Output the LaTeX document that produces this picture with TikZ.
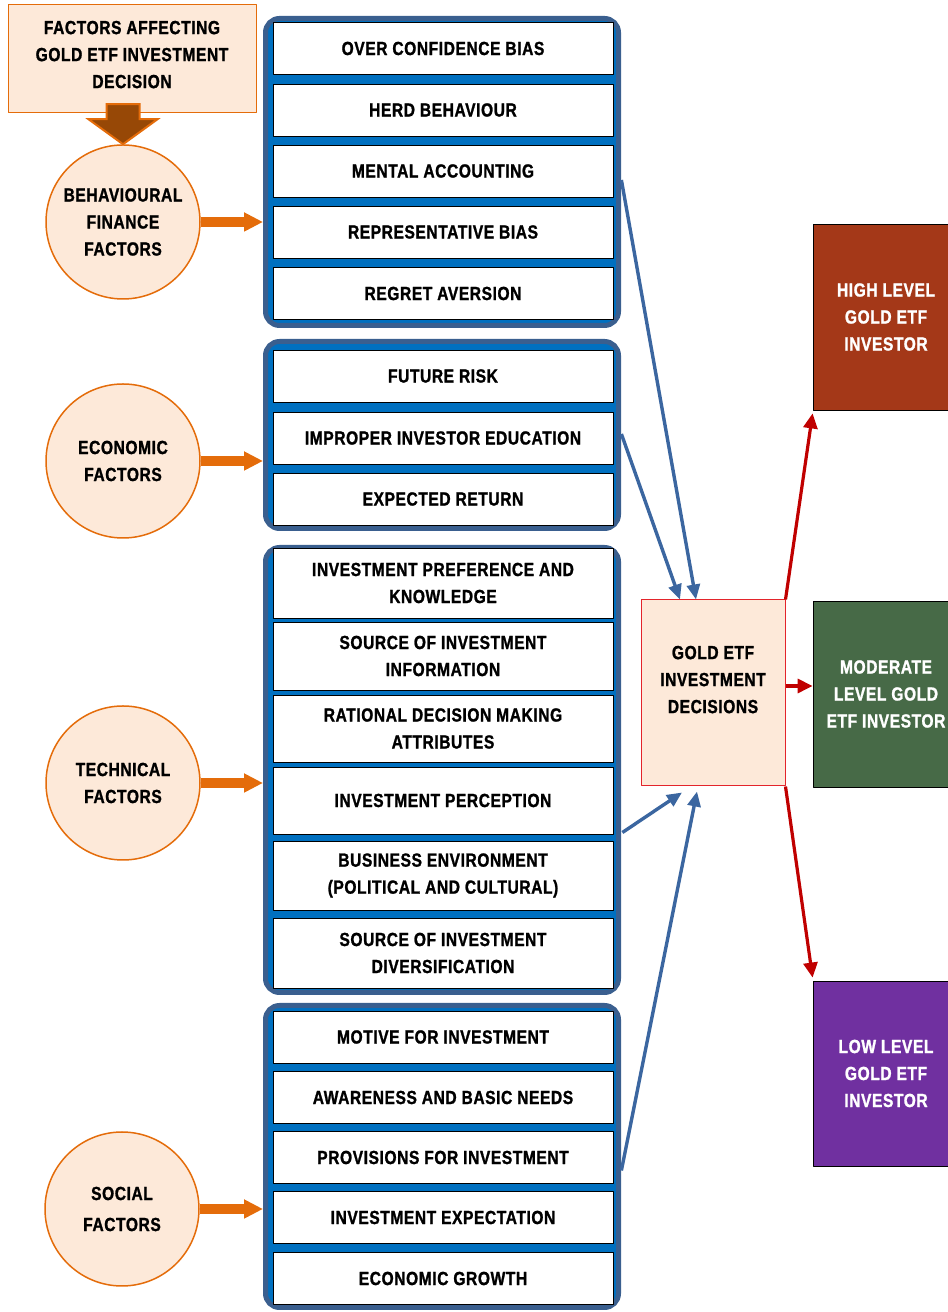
\documentclass[tikz,border=0pt]{standalone}
\usepackage{fontspec}
\setmainfont[FakeStretch=0.82,LetterSpace=3,BoldFeatures={FakeBold=1.2}]{Liberation Sans}
\usetikzlibrary{arrows.meta}
\definecolor{peach}{HTML}{FDE9D9}
\definecolor{orangeln}{HTML}{E46C0A}
\definecolor{brownarr}{HTML}{974806}
\definecolor{grpfill}{HTML}{0070C0}
\definecolor{grpline}{HTML}{3A5F8F}
\definecolor{bluearr}{HTML}{3B66A0}
\definecolor{redarr}{HTML}{C00000}
\definecolor{decline}{HTML}{E3242B}
\definecolor{highfill}{HTML}{A43818}
\definecolor{modfill}{HTML}{476A47}
\definecolor{lowfill}{HTML}{7030A0}
\newcommand{\diagfont}{\fontsize{19bp}{27bp}\selectfont\bfseries}
\tikzset{
  rowbox/.style={draw=black,line width=0.8bp,fill=white,minimum width=340bp,minimum height=52bp,inner sep=0pt,align=center,font=\diagfont},
  grpbox/.style={draw=grpline,line width=5bp,fill=grpfill,rounded corners=14bp,minimum width=353bp,inner sep=0pt},
  factor/.style={circle,draw=orangeln,line width=1.5bp,fill=peach,minimum size=154bp,inner sep=0pt,align=center,font=\diagfont},
  outbox/.style={draw=black,line width=0.8bp,minimum width=146bp,minimum height=186bp,inner sep=0pt,align=center,text=white,font=\diagfont},
  orange_arr/.style={orangeln,line width=10bp,-{Triangle[length=19bp,width=18bp]}},
  blue_arr/.style={bluearr,line width=3.4bp,-{Triangle[length=15bp,width=13bp]}},
  red_arr/.style={redarr,line width=3.2bp,-{Triangle[length=15bp,width=14bp]}},
}
\begin{document}
\begin{tikzpicture}[line join=bevel,]
\useasboundingbox (0bp,0bp) rectangle (948bp,1312bp);
%%
\node (node_title) at (132bp,1253bp) [draw=orangeln,line width=1bp,fill=peach,minimum width=248bp,minimum height=108bp,align=center,font=\diagfont] {FACTORS AFFECTING\\GOLD ETF INVESTMENT\\DECISION\\[-18bp]\mbox{}};
  \node (node_behav) at (123bp,1090bp) [factor] {BEHAVIOURAL\\FINANCE\\FACTORS};
  \node (node_econ) at (123bp,851bp) [factor] {ECONOMIC\\FACTORS};
  \node (node_tech) at (123bp,529bp) [factor] {TECHNICAL\\FACTORS};
  \node (node_soc) at (122bp,103bp) [factor] {SOCIAL\\[4bp]FACTORS};
  \filldraw [brownarr,draw=orangeln,line width=2bp,line join=miter] (node_behav.north) -- ++(-34.5bp,25bp) -- ++(18bp,0bp) -- ++(0bp,15bp) -- ++(33bp,0bp) -- ++(0bp,-15bp) -- ++(18bp,0bp) -- cycle;
%
\node (grp_behav) at (442bp,1140bp) [grpbox,minimum height=307bp] {};
  \node (node_over) at (443bp,1263.5bp) [rowbox] {OVER CONFIDENCE BIAS};
  \node (node_herd) at (443bp,1202bp) [rowbox] {HERD BEHAVIOUR};
  \node (node_mental) at (443bp,1141bp) [rowbox] {MENTAL ACCOUNTING};
  \node (node_repr) at (443bp,1080bp) [rowbox] {REPRESENTATIVE BIAS};
  \node (node_regret) at (443bp,1018.5bp) [rowbox] {REGRET AVERSION};
%
\node (grp_econ) at (442bp,877bp) [grpbox,minimum height=187bp] {};
  \node (node_future) at (443bp,936bp) [rowbox] {FUTURE RISK};
  \node (node_improper) at (443bp,874bp) [rowbox] {IMPROPER INVESTOR EDUCATION};
  \node (node_return) at (443bp,813bp) [rowbox] {EXPECTED RETURN};
%
\node (grp_tech) at (442bp,542bp) [grpbox,minimum height=445bp] {};
  \node (node_pref) at (443bp,729bp) [rowbox,minimum height=70bp] {INVESTMENT PREFERENCE AND\\KNOWLEDGE};
  \node (node_info) at (443bp,656bp) [rowbox,minimum height=68bp] {SOURCE OF INVESTMENT\\INFORMATION};
  \node (node_ratio) at (443bp,583.5bp) [rowbox,minimum height=67bp] {RATIONAL DECISION MAKING\\ATTRIBUTES};
  \node (node_percep) at (443bp,511.5bp) [rowbox,minimum height=67bp] {INVESTMENT PERCEPTION};
  \node (node_business) at (443bp,436.5bp) [rowbox,minimum height=69bp] {BUSINESS ENVIRONMENT\\(POLITICAL AND CULTURAL)};
  \node (node_divers) at (443bp,359bp) [rowbox,minimum height=70bp] {SOURCE OF INVESTMENT\\DIVERSIFICATION};
%
\node (grp_soc) at (442bp,155.5bp) [grpbox,minimum height=302bp] {};
  \node (node_motive) at (443bp,275bp) [rowbox] {MOTIVE FOR INVESTMENT};
  \node (node_aware) at (443bp,214.5bp) [rowbox] {AWARENESS AND BASIC NEEDS};
  \node (node_provis) at (443bp,154.5bp) [rowbox] {PROVISIONS FOR INVESTMENT};
  \node (node_expect) at (443bp,94.5bp) [rowbox] {INVESTMENT EXPECTATION};
  \node (node_growth) at (443bp,33.5bp) [rowbox] {ECONOMIC GROWTH};
%
\node (node_dec) at (713bp,619bp) [draw=decline,line width=1bp,fill=peach,minimum width=144bp,minimum height=186bp,inner sep=0pt,align=center,font=\diagfont] {GOLD ETF\\INVESTMENT\\DECISIONS\\\mbox{}};
  \node (node_high) at (886bp,995bp) [outbox,fill=highfill] {HIGH LEVEL\\GOLD ETF\\INVESTOR};
  \node (node_mod) at (886bp,618bp) [outbox,fill=modfill] {MODERATE\\LEVEL GOLD\\ETF INVESTOR};
  \node (node_low) at (886bp,238.5bp) [outbox,fill=lowfill,minimum height=185bp] {LOW LEVEL\\GOLD ETF\\INVESTOR};
%
\draw [orange_arr] (node_behav.east) -- (node_behav.east -| grp_behav.west);
  \draw [orange_arr] (node_econ.east) -- (node_econ.east -| grp_econ.west);
  \draw [orange_arr] (node_tech.east) -- (node_tech.east -| grp_tech.west);
  \draw [orange_arr] (node_soc.east) -- (node_soc.east -| grp_soc.west);
%
\draw [blue_arr] ([xshift=8bp,yshift=-9bp]node_mental.east) -- ([xshift=-17bp]node_dec.north);
  \draw [blue_arr] ([xshift=8bp,yshift=4bp]node_improper.east) -- ([xshift=-33bp]node_dec.north);
  \draw [blue_arr] ([xshift=9bp,yshift=-32bp]node_percep.east) -- ([xshift=-31bp,yshift=-6bp]node_dec.south);
  \draw [blue_arr] ([xshift=8bp,yshift=-13bp]node_provis.east) -- ([xshift=-16bp,yshift=-5bp]node_dec.south);
%
\draw [red_arr] (node_dec.north east) -- ([yshift=-3bp]node_high.south west);
  \draw [red_arr] ([yshift=7bp]node_dec.east) -- ([yshift=8bp]node_mod.west);
  \draw [red_arr] (node_dec.south east) -- ([yshift=3bp]node_low.north west);
%
\end{tikzpicture}
\end{document}
